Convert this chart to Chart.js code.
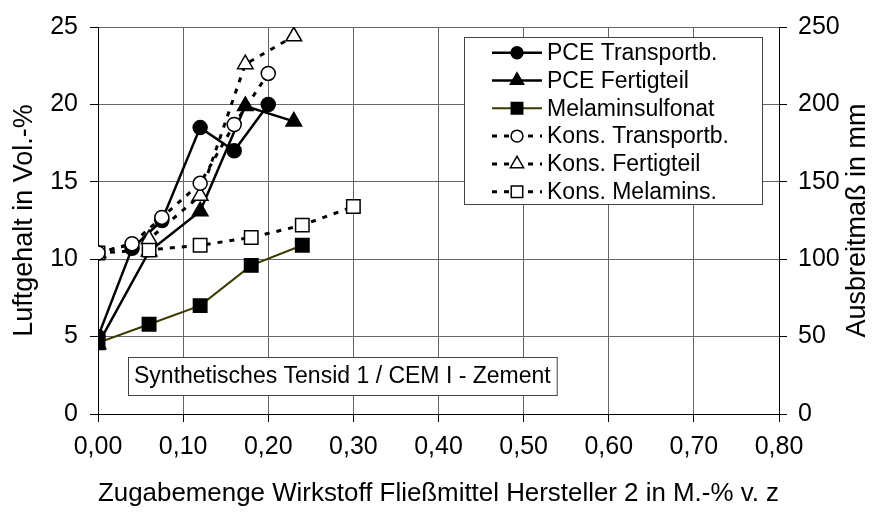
<!DOCTYPE html>
<html>
<head>
<meta charset="utf-8">
<script src="https://cdn.jsdelivr.net/npm/chart.js@4.4.0/dist/chart.umd.js"></script>
<style>
  html, body { margin: 0; padding: 0; background: #fff; }
  #wrap { width: 879px; height: 514px; }
</style>
</head>
<body>
<div id="wrap"><canvas id="chart" width="879" height="514"></canvas></div>
<script>
// Luftgehalt (linke Achse, Vol.-%)
const xPceTransport = [0, 0.04, 0.075, 0.12, 0.16, 0.20];
const yPceTransport = [5.0, 10.7, 12.5, 18.5, 17.0, 20.0];
const xPceFertig = [0, 0.06, 0.12, 0.173, 0.23];
const yPceFertig = [4.5, 10.5, 13.1, 19.9, 18.9];
const xMelamin = [0, 0.06, 0.12, 0.18, 0.24];
const yMelamin = [4.6, 5.8, 7.0, 9.6, 10.9];

// Ausbreitmaß (rechte Achse, mm)
const xKonsTransport = [0, 0.04, 0.075, 0.12, 0.16, 0.20];
const yKonsTransport = [104, 110, 127, 149, 187, 220];
const xKonsFertig = [0, 0.06, 0.12, 0.173, 0.23];
const yKonsFertig = [104, 113, 141, 226, 244];
const xKonsMelamin = [0, 0.06, 0.12, 0.18, 0.24, 0.30];
const yKonsMelamin = [104, 106, 109, 114, 122, 134];

const xTicks = [0, 0.1, 0.2, 0.3, 0.4, 0.5, 0.6, 0.7, 0.8];
const yLeftTicks = [0, 5, 10, 15, 20, 25];
const yRightTicks = [0, 50, 100, 150, 200, 250];

const FONT = "'Liberation Sans', Arial, sans-serif";
const OLIVE = '#3a3a00';

function pts(xs, ys) {
    return xs.map((x, i) => ({ x: x, y: ys[i] }));
}

function series(label, xs, ys, opts) {
    return Object.assign({
        label: label,
        data: pts(xs, ys),
        showLine: true,
        borderColor: '#000',
        backgroundColor: '#000',
        pointBorderColor: '#000',
        pointBorderWidth: 1.5,
        borderWidth: 2.5,
        tension: 0
    }, opts);
}

const datasets = [
    series('PCE Transportb.', xPceTransport, yPceTransport, {
        yAxisID: 'y', pointStyle: 'circle', pointRadius: 7, pointBackgroundColor: '#000', order: 1
    }),
    series('PCE Fertigteil', xPceFertig, yPceFertig, {
        yAxisID: 'y', pointStyle: 'triangle', pointRadius: 9, pointBackgroundColor: '#000', order: 1
    }),
    series('Melaminsulfonat', xMelamin, yMelamin, {
        yAxisID: 'y', pointStyle: 'rect', pointRadius: 9.5, pointBackgroundColor: '#000',
        borderColor: OLIVE, borderWidth: 2, order: 1
    }),
    series('Kons. Transportb.', xKonsTransport, yKonsTransport, {
        yAxisID: 'y2', pointStyle: 'circle', pointRadius: 7, pointBackgroundColor: '#fff',
        borderDash: [5, 7], borderWidth: 3, order: 0
    }),
    series('Kons. Fertigteil', xKonsFertig, yKonsFertig, {
        yAxisID: 'y2', pointStyle: 'triangle', pointRadius: 9, pointBackgroundColor: '#fff',
        borderDash: [5, 7], borderWidth: 3, order: 0
    }),
    series('Kons. Melamins.', xKonsMelamin, yKonsMelamin, {
        yAxisID: 'y2', pointStyle: 'rect', pointRadius: 9.5, pointBackgroundColor: '#fff',
        borderDash: [5, 7], borderWidth: 3, order: 0
    })
];

// Legende im Diagramm (Linie + Marker wie Excel)
const boxLegend = {
    id: 'boxLegend',
    afterDraw(chart) {
        const ctx = chart.ctx;
        const x0 = 464, y0 = 37, w = 298, h = 167;
        ctx.save();
        ctx.fillStyle = '#fff';
        ctx.fillRect(x0, y0, w, h);
        ctx.strokeStyle = '#444';
        ctx.lineWidth = 1;
        ctx.strokeRect(x0 + 0.5, y0 + 0.5, w, h);
        ctx.font = '23px ' + FONT;
        ctx.textBaseline = 'middle';
        chart.data.datasets.forEach((ds, i) => {
            const y = 52.7 + i * 27.8;
            ctx.save();
            ctx.strokeStyle = ds.borderColor;
            ctx.lineWidth = ds.borderWidth;
            ctx.setLineDash(ds.borderDash || []);
            ctx.beginPath();
            ctx.moveTo(492, y);
            ctx.lineTo(542, y);
            ctx.stroke();
            ctx.restore();
            ctx.fillStyle = ds.pointBackgroundColor;
            ctx.strokeStyle = '#000';
            ctx.lineWidth = 1.5;
            Chart.helpers.drawPoint(ctx, {
                pointStyle: ds.pointStyle, radius: ds.pointRadius * 0.85, borderWidth: 1.5
            }, 517, y);
            ctx.fillStyle = '#000';
            ctx.fillText(ds.label, 547, y + 1);
        });
        ctx.restore();
    }
};

// Textfeld und rechte Achsenbeschriftung
const notes = {
    id: 'notes',
    afterDraw(chart) {
        const ctx = chart.ctx;
        const label = 'Synthetisches Tensid 1 / CEM I - Zement';
        ctx.save();
        ctx.font = '23px ' + FONT;
        const tw = ctx.measureText(label).width;
        ctx.fillStyle = '#fff';
        ctx.fillRect(128, 357, tw + 12, 38);
        ctx.strokeStyle = '#444';
        ctx.lineWidth = 1;
        ctx.strokeRect(128.5, 357.5, tw + 12, 38);
        ctx.fillStyle = '#000';
        ctx.textBaseline = 'middle';
        ctx.fillText(label, 134, 377);

        const y2 = chart.scales.y2;
        ctx.translate(858, (y2.top + y2.bottom) / 2);
        ctx.rotate(-Math.PI / 2);
        ctx.textAlign = 'center';
        ctx.font = '27px ' + FONT;
        ctx.fillText('Ausbreitmaß in mm', 0, 0);
        ctx.restore();
    }
};

const tickFont = { family: FONT, size: 25 };

new Chart(document.getElementById('chart'), {
    type: 'scatter',
    data: { datasets: datasets },
    options: {
        responsive: false,
        animation: false,
        devicePixelRatio: 1,
        layout: { padding: { top: 22, left: 0, right: 0, bottom: 0 } },
        plugins: {
            legend: { display: false },
            tooltip: { enabled: false }
        },
        scales: {
            x: {
                type: 'linear',
                min: 0,
                max: 0.8,
                afterBuildTicks: (s) => { s.ticks = xTicks.map(v => ({ value: v })); },
                afterFit: (s) => { s.height = 100; },
                ticks: {
                    color: '#000',
                    font: tickFont,
                    padding: 10,
                    maxRotation: 0,
                    callback: (v) => v.toFixed(2).replace('.', ',')
                },
                grid: { color: '#666', lineWidth: 1, tickLength: 8, tickColor: '#000' },
                border: { color: '#000', width: 1 },
                title: {
                    display: true,
                    text: 'Zugabemenge Wirkstoff Fließmittel Hersteller 2 in M.-% v. z',
                    color: '#000',
                    font: { family: FONT, size: 26 },
                    padding: { top: 0, bottom: 5 }
                }
            },
            y: {
                position: 'left',
                min: 0,
                max: 25,
                afterBuildTicks: (s) => { s.ticks = yLeftTicks.map(v => ({ value: v })); },
                afterFit: (s) => { s.width = 98; },
                ticks: { color: '#000', font: tickFont, padding: 12 },
                grid: { color: '#666', lineWidth: 1, tickLength: 8, tickColor: '#000' },
                border: { color: '#000', width: 1 },
                title: {
                    display: true,
                    text: 'Luftgehalt in Vol.-%',
                    color: '#000',
                    font: { family: FONT, size: 27 },
                    padding: { top: 8, bottom: 0 }
                }
            },
            y2: {
                position: 'right',
                min: 0,
                max: 250,
                afterBuildTicks: (s) => { s.ticks = yRightTicks.map(v => ({ value: v })); },
                afterFit: (s) => { s.width = 100; },
                ticks: { color: '#000', font: tickFont, padding: 11 },
                grid: { drawOnChartArea: false, tickLength: 8, tickColor: '#000' },
                border: { color: '#000', width: 1 }
            }
        }
    },
    plugins: [boxLegend, notes]
});
</script>
</body>
</html>
